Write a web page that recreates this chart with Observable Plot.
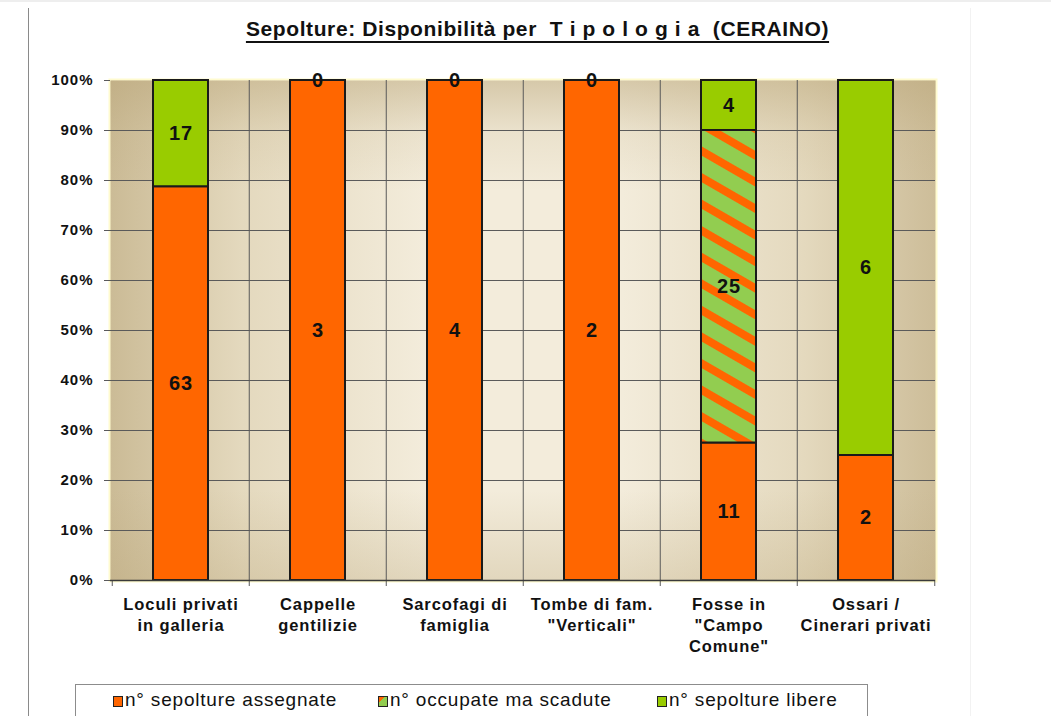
<!DOCTYPE html>
<html>
<head>
<meta charset="utf-8">
<script src="https://cdn.jsdelivr.net/npm/d3@7"></script>
<script src="https://cdn.jsdelivr.net/npm/@observablehq/plot@0.6"></script>
<style>
  html, body { margin: 0; padding: 0; background: #fff; }
  body { width: 1051px; height: 716px; position: relative; overflow: hidden; font-family: "Liberation Sans", Arial, sans-serif; color: #111; }
  #topline { position: absolute; left: 0; top: 0; width: 1051px; height: 2px; background: #eeeeee; }
  #leftline { position: absolute; left: 28px; top: 8px; width: 1px; height: 708px; background: #8a8a8a; }
  #rightline { position: absolute; left: 970px; top: 8px; width: 1px; height: 708px; background: #f2f2f2; }
  #title { position: absolute; left: 0; top: 17px; width: 1075px; text-align: center; font-weight: bold; font-size: 21px; line-height: 24px; letter-spacing: 0.6px; white-space: pre; text-decoration: underline; text-decoration-thickness: 1.5px; text-underline-offset: 5px; }
  #chart { position: absolute; left: 0; top: 60px; }
  #legend { position: absolute; left: 75px; top: 684px; width: 793px; height: 45px; border: 1px solid #8c8c8c; box-sizing: border-box; }
  .sw { position: absolute; top: 696px; width: 8px; height: 9px; border: 1.5px solid #222; }
  .lt { position: absolute; top: 689px; font-size: 19px; line-height: 22px; letter-spacing: 0.8px; white-space: pre; }
  g[aria-label="x-axis tick label"] text { letter-spacing: 0.9px; }
  g[aria-label="y-axis tick label"] text { letter-spacing: 1px; }
  g[aria-label="text"] text { letter-spacing: 1px; }
</style>
</head>
<body>
<div id="topline"></div>
<div id="leftline"></div>
<div id="rightline"></div>
<div id="title"></div>
<div id="chart"></div>
<div id="legend"></div>
<script>
// ---- data ----
const titleText = "Sepolture: Disponibilità per  T i p o l o g i a  (CERAINO)";
const categories = [
  "Loculi privati\nin galleria",
  "Cappelle\ngentilizie",
  "Sarcofagi di\nfamiglia",
  "Tombe di fam.\n\"Verticali\"",
  "Fosse in\n\"Campo\nComune\"",
  "Ossari /\nCinerari privati"
];
const series = ["n° sepolture assegnate", "n° occupate ma scadute", "n° sepolture libere"];
const assegnate = [63, 3, 4, 2, 11, 2];
const scadute = [null, null, null, null, 25, null];
const libere = [17, 0, 0, 0, 4, 6];
const yTicks = [0, 0.1, 0.2, 0.3, 0.4, 0.5, 0.6, 0.7, 0.8, 0.9, 1];
const seriesColors = ["#FF6600", "url(#stripes)", "#99CC00"];

// ---- table ----
const values = [assegnate, scadute, libere];
const rows = categories.flatMap((c, i) =>
  series.map((s, k) => ({cat: c, serie: s, value: values[k][i]})).filter(d => d.value != null)
);

document.getElementById("title").textContent = titleText;

const W = 1051, H = 600, mL = 110, mR = 116, mT = 20, mB = 80;
const step = (W - mL - mR) / categories.length;
const stackOpts = {x: "cat", y: "value", z: "serie", order: series, offset: "normalize"};
const gridTicks = yTicks.filter(t => t > 0 && t < 1);
const innerH = H - mT - mB;

const chart = Plot.plot({
  width: W, height: H,
  marginLeft: mL, marginRight: mR, marginTop: mT, marginBottom: mB,
  style: {background: "transparent", fontFamily: "'Liberation Sans', Arial, sans-serif", color: "#111", overflow: "visible"},
  x: {type: "band", domain: categories, paddingInner: 0.6, paddingOuter: 0.3, label: null},
  y: {domain: [0, 1], label: null},
  color: {domain: series, range: seriesColors},
  marks: [
    Plot.frame({stroke: "#FFFBCF", strokeWidth: 4}),
    Plot.frame({fill: "url(#bgH)"}),
    Plot.frame({fill: "url(#bgV)"}),
    Plot.gridY(gridTicks, {stroke: "#5a5a5a", strokeOpacity: 1, strokeWidth: 1}),
    Plot.ruleX(categories.slice(1), {x: d => d, dx: -step / 2, stroke: "#5a5a5a", strokeWidth: 1, insetBottom: -6}),
    Plot.ruleX(categories.slice(0, 1), {x: d => d, dx: -step / 2, stroke: "#5a5a5a", strokeWidth: 1, insetTop: innerH, insetBottom: -6}),
    Plot.ruleX(categories.slice(-1), {x: d => d, dx: step / 2, stroke: "#5a5a5a", strokeWidth: 1, insetTop: innerH, insetBottom: -6}),
    Plot.barY(rows, Plot.stackY({...stackOpts, fill: "serie", stroke: "#1a1a1a", strokeWidth: 2})),
    Plot.ruleY([0], {stroke: "#3a3a3a", strokeWidth: 1.5}),
    Plot.text(rows, Plot.stackY({...stackOpts, text: "value", fontSize: 20, fontWeight: "bold", fill: "#111"})),
    Plot.axisY({ticks: yTicks, tickFormat: d3.format(".0%"), tickSize: 6, tickPadding: 11, fontSize: 15, fontWeight: "bold", stroke: "#5a5a5a", label: null}),
    Plot.axisX({tickSize: 0, tickPadding: 15, fontSize: 16.5, fontWeight: "bold", lineHeight: 1.27, label: null})
  ]
});

// defs: background gradients + stripe pattern
const svg = d3.select(chart);
const defs = svg.insert("defs", ":first-child");
const gH = defs.append("linearGradient").attr("id", "bgH").attr("x1", 0).attr("x2", 1).attr("y1", 0).attr("y2", 0);
[[0, "#CBBB96"], [0.16, "#E4D9BE"], [0.38, "#F3ECDB"], [0.62, "#F3ECDB"], [0.84, "#E4D9BE"], [1, "#CDBD99"]]
  .forEach(([o, c]) => gH.append("stop").attr("offset", o).attr("stop-color", c));
const gV = defs.append("linearGradient").attr("id", "bgV").attr("x1", 0).attr("x2", 0).attr("y1", 0).attr("y2", 1);
[[0, "rgb(185,165,120)", 0.5], [0.1, "rgb(185,165,120)", 0.15], [0.22, "rgb(185,165,120)", 0], [0.82, "rgb(185,165,120)", 0], [1, "rgb(185,165,120)", 0.3]]
  .forEach(([o, c, a]) => gV.append("stop").attr("offset", o).attr("stop-color", c).attr("stop-opacity", a));
const pat = defs.append("pattern").attr("id", "stripes").attr("patternUnits", "userSpaceOnUse")
  .attr("width", 24).attr("height", 23).attr("patternTransform", "rotate(30)");
pat.append("rect").attr("width", 24).attr("height", 23).attr("fill", "#92CD50");
pat.append("rect").attr("width", 24).attr("height", 8).attr("fill", "#FF6600");

document.getElementById("chart").appendChild(chart);

// legend
const swX = [113, 378, 657];
const txX = [125, 390, 669];
const swBg = [seriesColors[0], "linear-gradient(135deg, #FF6600 0 35%, #92CD50 35% 100%)", seriesColors[2]];
series.forEach((s, i) => {
  const sw = document.createElement("div");
  sw.className = "sw";
  sw.style.left = swX[i] + "px";
  sw.style.background = swBg[i];
  document.body.appendChild(sw);
  const t = document.createElement("div");
  t.className = "lt";
  t.style.left = txX[i] + "px";
  t.textContent = s;
  document.body.appendChild(t);
});
</script>
</body>
</html>
